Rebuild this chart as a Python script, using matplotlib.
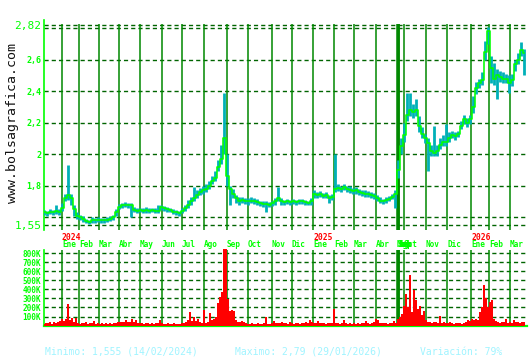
import numpy as np
import matplotlib
matplotlib.use("Agg")
import matplotlib.pyplot as plt
from matplotlib.transforms import blended_transform_factory

plt.rcParams['font.family'] = ['DejaVu Sans Mono']

# ---------------- data ----------------
# price sampled every 3 trading-day index units
close = [1.630, 1.625, 1.635, 1.630, 1.640, 1.630, 1.660, 1.720, 1.740, 1.720,
         1.650, 1.610, 1.600, 1.590, 1.575, 1.570, 1.585, 1.580, 1.585, 1.580,
         1.580, 1.585, 1.590, 1.600, 1.630, 1.665, 1.675, 1.680, 1.675, 1.680,
         1.645, 1.640, 1.645, 1.640, 1.645, 1.640, 1.645, 1.640, 1.640, 1.665,
         1.655, 1.650, 1.645, 1.635, 1.630, 1.625, 1.640, 1.655, 1.680, 1.700,
         1.720, 1.740, 1.760, 1.770, 1.780, 1.800, 1.830, 1.850, 1.920, 1.970,
         2.100, 1.860, 1.780, 1.750, 1.720, 1.700, 1.710, 1.700, 1.700, 1.705,
         1.700, 1.695, 1.690, 1.685, 1.685, 1.680, 1.690, 1.700, 1.720, 1.700,
         1.695, 1.700, 1.695, 1.700, 1.695, 1.700, 1.700, 1.695, 1.690, 1.700,
         1.745, 1.740, 1.745, 1.735, 1.740, 1.720, 1.730, 1.780, 1.785, 1.780,
         1.790, 1.780, 1.775, 1.765, 1.770, 1.760, 1.755, 1.750, 1.745, 1.740,
         1.735, 1.720, 1.705, 1.700, 1.710, 1.715, 1.730, 1.750, 1.900, 2.050,
         2.120, 2.250, 2.280, 2.270, 2.280, 2.180, 2.130, 2.100, 2.070, 2.020,
         2.010, 2.020, 2.060, 2.080, 2.075, 2.100, 2.120, 2.115, 2.130, 2.180,
         2.220, 2.200, 2.220, 2.300, 2.420, 2.450, 2.470, 2.650, 2.780, 2.550,
         2.480, 2.500, 2.490, 2.480, 2.480, 2.450, 2.470, 2.570, 2.600, 2.660,
         2.640]
high = [1.645, 1.640, 1.650, 1.645, 1.680, 1.650, 1.690, 1.750, 1.930, 1.750,
        1.680, 1.630, 1.615, 1.605, 1.590, 1.585, 1.600, 1.595, 1.600, 1.595,
        1.595, 1.600, 1.605, 1.615, 1.650, 1.685, 1.690, 1.695, 1.690, 1.690,
        1.665, 1.660, 1.660, 1.655, 1.665, 1.660, 1.660, 1.655, 1.680, 1.680,
        1.670, 1.665, 1.660, 1.650, 1.645, 1.640, 1.660, 1.680, 1.710, 1.730,
        1.790, 1.770, 1.785, 1.795, 1.810, 1.830, 1.860, 1.890, 1.960, 2.060,
        2.390, 2.000, 1.800, 1.780, 1.740, 1.725, 1.730, 1.720, 1.720, 1.725,
        1.720, 1.715, 1.705, 1.700, 1.700, 1.695, 1.705, 1.720, 1.790, 1.720,
        1.710, 1.715, 1.710, 1.715, 1.710, 1.715, 1.715, 1.710, 1.705, 1.720,
        1.770, 1.760, 1.765, 1.755, 1.760, 1.740, 1.750, 2.000, 1.810, 1.800,
        1.810, 1.800, 1.795, 1.785, 1.790, 1.780, 1.775, 1.770, 1.765, 1.760,
        1.755, 1.740, 1.725, 1.715, 1.725, 1.735, 1.750, 1.770, 1.960, 2.100,
        2.200, 2.390, 2.390, 2.320, 2.350, 2.240, 2.170, 2.130, 2.100, 2.060,
        2.180, 2.060, 2.100, 2.120, 2.190, 2.140, 2.150, 2.140, 2.150, 2.210,
        2.250, 2.230, 2.250, 2.370, 2.460, 2.480, 2.520, 2.720, 2.810, 2.620,
        2.580, 2.540, 2.530, 2.520, 2.510, 2.500, 2.510, 2.600, 2.640, 2.710,
        2.670]
low = [1.615, 1.610, 1.620, 1.615, 1.620, 1.615, 1.640, 1.700, 1.710, 1.680,
       1.610, 1.590, 1.580, 1.570, 1.560, 1.555, 1.565, 1.565, 1.570, 1.565,
       1.565, 1.570, 1.575, 1.585, 1.610, 1.650, 1.660, 1.665, 1.660, 1.600,
       1.630, 1.625, 1.630, 1.625, 1.625, 1.625, 1.630, 1.625, 1.625, 1.645,
       1.640, 1.635, 1.630, 1.620, 1.615, 1.610, 1.625, 1.640, 1.660, 1.680,
       1.700, 1.720, 1.740, 1.750, 1.760, 1.780, 1.810, 1.830, 1.890, 1.940,
       2.000, 1.800, 1.680, 1.720, 1.690, 1.680, 1.690, 1.685, 1.680, 1.690,
       1.685, 1.675, 1.670, 1.665, 1.630, 1.665, 1.670, 1.680, 1.700, 1.680,
       1.680, 1.685, 1.680, 1.685, 1.680, 1.685, 1.685, 1.680, 1.675, 1.680,
       1.720, 1.720, 1.725, 1.720, 1.720, 1.690, 1.710, 1.760, 1.765, 1.760,
       1.770, 1.760, 1.755, 1.745, 1.750, 1.740, 1.735, 1.730, 1.725, 1.720,
       1.715, 1.700, 1.690, 1.685, 1.690, 1.700, 1.715, 1.660, 1.850, 2.000,
       2.080, 2.210, 2.240, 2.230, 2.240, 2.140, 2.100, 2.070, 1.890, 1.990,
       1.990, 1.990, 2.030, 2.050, 2.050, 2.080, 2.100, 2.090, 2.110, 2.160,
       2.190, 2.170, 2.190, 2.260, 2.380, 2.420, 2.440, 2.600, 2.700, 2.450,
       2.440, 2.350, 2.460, 2.450, 2.450, 2.390, 2.430, 2.530, 2.570, 2.620,
       2.500]

# volume (thousands) sampled every 2 trading-day index units
volume_k = [20, 30, 25, 35, 20, 40, 30, 45, 50, 70, 55, 75, 240, 60, 80, 45, 80, 25, 20, 30,
            25, 35, 20, 30, 25, 55, 20, 30, 15, 25, 20, 30, 15, 25, 20, 25, 30, 40, 35, 45,
            40, 65, 35, 45, 75, 40, 65, 30, 25, 30, 20, 25, 30, 20, 25, 20, 30, 25, 65, 25,
            20, 15, 25, 20, 15, 25, 20, 15, 20, 25, 30, 45, 60, 145, 50, 90, 55, 75, 35, 30,
            175, 30, 45, 135, 60, 75, 95, 250, 320, 370, 850, 850, 290, 165, 170, 160, 60, 45, 35, 55,
            40, 30, 20, 15, 25, 20, 15, 25, 20, 15, 25, 90, 20, 15, 25, 50, 25, 30, 25, 35,
            25, 30, 20, 40, 25, 20, 30, 25, 20, 30, 25, 35, 25, 60, 40, 25, 30, 50, 25, 30,
            25, 20, 30, 25, 30, 185, 30, 25, 20, 30, 60, 25, 20, 25, 20, 25, 20, 25, 20, 25,
            30, 55, 25, 20, 25, 45, 70, 60, 30, 25, 30, 25, 20, 30, 25, 50, 30, 75, 90, 130,
            220, 350, 200, 555, 150, 395, 280, 180, 220, 120, 160, 60, 35, 40, 30, 40, 35, 30, 110, 30,
            45, 25, 30, 35, 25, 20, 25, 30, 25, 20, 30, 40, 65, 55, 70, 60, 75, 65, 150, 200,
            445, 300, 200, 260, 280, 70, 55, 45, 30, 40, 35, 70, 30, 40, 25, 60, 35, 40, 30, 45,
            35]

# month boundaries on the trading-day index axis
month_labels = ["Ene", "Feb", "Mar", "Abr", "May", "Jun", "Jul", "Ago", "Sep", "Oct", "Nov", "Dic",
                "Ene", "Feb", "Mar", "Abr", "May", "Jun", "Jul", "Ago", "Sep", "Oct", "Nov", "Dic",
                "Ene", "Feb", "Mar"]
month_idx = [18, 35, 55, 75, 96, 118, 138, 160, 183, 204, 228, 248,
             269, 290, 310, 332, 353, 353.5, 354, 354.5, 355, 360, 382, 403,
             427, 445, 466]
year_labels = ["2024", "2025", "2026"]
year_idx = [18, 269, 427]

price_grid = [2.82, 2.8, 2.6, 2.4, 2.2, 2.0, 1.8, 1.6, 1.55]
price_ticks = [2.82, 2.6, 2.4, 2.2, 2.0, 1.8, 1.55]
price_ticklabels = ["2,82", "2,6", "2,4", "2,2", "2", "1,8", "1,55"]
vol_ticks_k = [100, 200, 300, 400, 500, 600, 700, 800]
vol_ticklabels = ["100K", "200K", "300K", "400K", "500K", "600K", "700K", "800K"]

stats_min = "Minimo: 1,555 (14/02/2024)"
stats_max = "Maximo: 2,79 (29/01/2026)"
stats_var = "Variación: 79%"
site = "www.bolsagrafica.com"

# ---------------- styling ----------------
W, H = 530, 360
LIME = "#00ff00"
GRID_V = "#008800"
GRID_H = "#006400"
TEAL = "#00b0b8"
RED = "#ff0000"
CYAN_TXT = "#a0f4ff"

fig = plt.figure(figsize=(W / 100, H / 100), dpi=100)
fig.patch.set_facecolor("white")

x0, x1 = 44, 527
ax = fig.add_axes([x0 / W, 1 - 230 / H, (x1 - x0) / W, 210 / H])
axv = fig.add_axes([x0 / W, 1 - 325.6 / H, (x1 - x0) / W, (325.6 - 248) / H])

xmax = 483
xc = np.arange(len(close)) * 3
xv = np.arange(len(volume_k)) * 2

# ---- price panel ----
ax.set_xlim(0, xmax)
ymin, ymax = 2.82 - 205 / 157.5, 2.82 + 5 / 157.5
ax.set_ylim(ymin, ymax)
for g in price_grid:
    ax.axhline(g, color=GRID_H, lw=1.0, ls=(0, (3.0, 2.2)), zorder=1)
ax.vlines(month_idx, ymin, 2.826, color=GRID_V, lw=1.1, zorder=2)
ax.vlines(xc, low, high, color=TEAL, lw=2.0, zorder=3)
ax.plot(xc, close, color=LIME, lw=1.15, zorder=4, drawstyle="steps-mid")

for s in ["top", "right", "bottom"]:
    ax.spines[s].set_visible(False)
ax.spines["left"].set_color(LIME)
ax.spines["left"].set_linewidth(1.2)
ax.set_yticks(price_ticks)
ax.set_yticklabels(price_ticklabels)
for lbl, t in zip(ax.get_yticklabels(), price_ticklabels):
    lbl.set_color(LIME)
    if t in ("2,82", "1,55"):
        lbl.set_fontsize(8)
    else:
        lbl.set_fontsize(6)
        lbl.set_fontweight("bold")
ax.tick_params(axis="y", length=0, pad=2)
ax.set_xticks(month_idx)
ax.set_xticklabels(month_labels)
ax.tick_params(axis="x", length=0, pad=7, labelsize=5.6, labelcolor=LIME)
for lbl in ax.get_xticklabels():
    lbl.set_horizontalalignment("left")
    lbl.set_fontweight("bold")
tr = blended_transform_factory(ax.transData, ax.transAxes)
for yl, yi in zip(year_labels, year_idx):
    ax.text(yi, -0.012, yl, transform=tr, color=RED, fontsize=5.8, fontweight="bold",
            ha="left", va="top")
ax.set_facecolor("none")

# ---- volume panel ----
axv.set_xlim(0, xmax)
axv.set_ylim(0, 856)
for g in vol_ticks_k:
    axv.axhline(g, color=GRID_H, lw=1.0, ls=(0, (3.0, 2.2)), zorder=1)
axv.vlines(month_idx, 0, 830, color=GRID_V, lw=1.1, zorder=2)
axv.bar(xv, volume_k, width=2.0, color=RED, linewidth=0, zorder=3)
for s in ["top", "right"]:
    axv.spines[s].set_visible(False)
axv.spines["left"].set_color(LIME)
axv.spines["bottom"].set_color(LIME)
axv.spines["left"].set_linewidth(1.2)
axv.spines["bottom"].set_linewidth(1.6)
axv.spines["left"].set_bounds(0, 830)
axv.set_yticks(vol_ticks_k)
axv.set_yticklabels(vol_ticklabels)
axv.tick_params(axis="y", length=0, pad=2, labelsize=5.6, labelcolor=LIME)
for lbl in axv.get_yticklabels():
    lbl.set_fontweight("bold")
axv.set_xticks([])
axv.set_facecolor("none")

# ---- texts ----
fig.text(13 / W, 1 - 123 / H, site, rotation=90, fontsize=9.5, color="#111111",
         ha="center", va="center", fontweight="light")
fig.text(45 / W, 1 - 352 / H, stats_min, fontsize=7, color=CYAN_TXT, ha="left", va="center")
fig.text(235 / W, 1 - 352 / H, stats_max, fontsize=7, color=CYAN_TXT, ha="left", va="center")
fig.text(420 / W, 1 - 352 / H, stats_var, fontsize=7, color=CYAN_TXT, ha="left", va="center")

fig.savefig("out.png", dpi=100, facecolor="white")
